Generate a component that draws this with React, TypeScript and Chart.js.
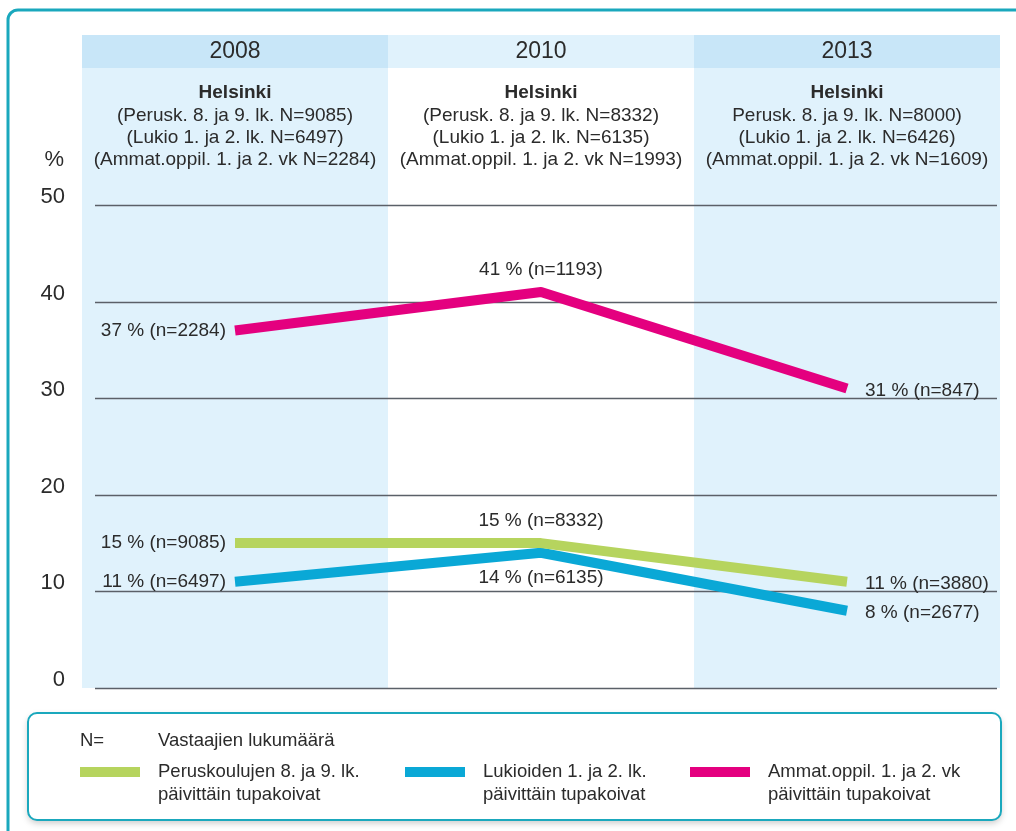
import React, { useEffect, useRef } from "react";
import { Chart, registerables } from "chart.js";

Chart.register(...registerables);

const YEARS = ["2008", "2010", "2013"];
const HEADER_2008 = ["Helsinki", "(Perusk. 8. ja 9. lk. N=9085)", "(Lukio 1. ja 2. lk. N=6497)", "(Ammat.oppil. 1. ja 2. vk N=2284)"];
const HEADER_2010 = ["Helsinki", "(Perusk. 8. ja 9. lk. N=8332)", "(Lukio 1. ja 2. lk. N=6135)", "(Ammat.oppil. 1. ja 2. vk N=1993)"];
const HEADER_2013 = ["Helsinki", "Perusk. 8. ja 9. lk. N=8000)", "(Lukio 1. ja 2. lk. N=6426)", "(Ammat.oppil. 1. ja 2. vk N=1609)"];

const PERUS = [15, 15, 11];
const LUKIO = [11, 14, 8];
const AMMAT = [37, 41, 31];
const PERUS_N = [9085, 8332, 3880];
const LUKIO_N = [6497, 6135, 2677];
const AMMAT_N = [2284, 1193, 847];

const SERIES_NAMES = [
  ["Peruskoulujen 8. ja 9. lk.", "päivittäin tupakoivat"],
  ["Lukioiden 1. ja 2. lk.", "päivittäin tupakoivat"],
  ["Ammat.oppil. 1. ja 2. vk", "päivittäin tupakoivat"],
];
const Y_TICKS = [0, 10, 20, 30, 40, 50];

const GREEN = "#b6d45e";
const BLUE = "#0aa8d6";
const MAGENTA = "#e4007f";
const TEAL = "#1aa8bd";
const TEXT = "#2b2b2b";
const FONT = "'Liberation Sans', Arial, sans-serif";

// label placement per series & point
const PLACEMENT = [
  ["left", "above", "right"],
  ["left", "below", "right"],
  ["left", "above", "right"],
];

const decorPlugin = {
  id: "decor",
  beforeDraw(chart: any) {
    const { ctx, chartArea, scales } = chart;
    const x = scales.x;
    const step = x.getPixelForValue(1) - x.getPixelForValue(0);
    ctx.save();
    ctx.fillStyle = "#ffffff";
    ctx.fillRect(0, 0, chart.width, chart.height);
    const headerTop = 35;
    const headerBottom = 68;
    const headers = [HEADER_2008, HEADER_2010, HEADER_2013];
    YEARS.forEach((yr, i) => {
      const cx = x.getPixelForValue(i);
      const l = cx - step / 2;
      const shaded = i !== 1;
      ctx.fillStyle = shaded ? "#c8e6f8" : "#e0f2fc";
      ctx.fillRect(l, headerTop, step, headerBottom - headerTop);
      if (shaded) {
        ctx.fillStyle = "#e0f2fc";
        ctx.fillRect(l, headerBottom, step, chartArea.bottom - headerBottom);
      }
      ctx.fillStyle = TEXT;
      ctx.textAlign = "center";
      ctx.textBaseline = "middle";
      ctx.font = `23px ${FONT}`;
      ctx.fillText(yr, cx, 52);
      headers[i].forEach((line, j) => {
        ctx.font = j === 0 ? `bold 19px ${FONT}` : `19px ${FONT}`;
        ctx.fillText(line, cx, 93 + j * 22.4);
      });
    });
    // frame
    ctx.strokeStyle = TEAL;
    ctx.lineWidth = 3;
    ctx.beginPath();
    ctx.moveTo(8, chart.height + 10);
    ctx.lineTo(8, 20);
    ctx.arcTo(8, 10, 18, 10, 10);
    ctx.lineTo(chart.width + 10, 10);
    ctx.stroke();
    // % label
    ctx.fillStyle = TEXT;
    ctx.font = `22px ${FONT}`;
    ctx.textAlign = "right";
    ctx.textBaseline = "middle";
    ctx.fillText("%", 64, 160);
    ctx.restore();
  },
  beforeDatasetsDraw(chart: any) {
    const { ctx, scales } = chart;
    const y = scales.y;
    ctx.save();
    ctx.strokeStyle = "#5b6068";
    ctx.lineWidth = 1.5;
    Y_TICKS.forEach((t) => {
      const py = Math.round(y.getPixelForValue(t)) + 0.5;
      ctx.beginPath();
      ctx.moveTo(95, py);
      ctx.lineTo(997, py);
      ctx.stroke();
    });
    ctx.restore();
  },
  afterDatasetsDraw(chart: any) {
    const { ctx } = chart;
    const values = [PERUS, LUKIO, AMMAT];
    const ns = [PERUS_N, LUKIO_N, AMMAT_N];
    ctx.save();
    ctx.fillStyle = TEXT;
    ctx.font = `19px ${FONT}`;
    ctx.textBaseline = "middle";
    values.forEach((vals, s) => {
      const meta = chart.getDatasetMeta(s);
      vals.forEach((v, i) => {
        const pt = meta.data[i];
        const txt = `${v} % (n=${ns[s][i]})`;
        const pl = PLACEMENT[s][i];
        if (pl === "left") {
          ctx.textAlign = "right";
          ctx.fillText(txt, pt.x - 9, pt.y);
        } else if (pl === "right") {
          ctx.textAlign = "left";
          ctx.fillText(txt, pt.x + 18, pt.y + 2);
        } else if (pl === "above") {
          ctx.textAlign = "center";
          ctx.fillText(txt, pt.x, pt.y - 22);
        } else {
          ctx.textAlign = "center";
          ctx.fillText(txt, pt.x, pt.y + 25);
        }
      });
    });
    ctx.restore();
  },
  afterDraw(chart: any) {
    const { ctx } = chart;
    ctx.save();
    // legend box
    ctx.shadowColor = "rgba(0,0,0,0.22)";
    ctx.shadowBlur = 7;
    ctx.shadowOffsetY = 3;
    ctx.fillStyle = "#ffffff";
    ctx.beginPath();
    ctx.roundRect(28, 713, 973, 107, 9);
    ctx.fill();
    ctx.shadowColor = "transparent";
    ctx.strokeStyle = TEAL;
    ctx.lineWidth = 2;
    ctx.stroke();
    ctx.fillStyle = TEXT;
    ctx.font = `18.5px ${FONT}`;
    ctx.textAlign = "left";
    ctx.textBaseline = "middle";
    ctx.fillText("N=", 80, 741);
    ctx.fillText("Vastaajien lukumäärä", 158, 741);
    const xs = [80, 405, 690];
    chart.data.datasets.forEach((ds: any, i: number) => {
      ctx.fillStyle = ds.borderColor;
      ctx.fillRect(xs[i], 767, 60, 10);
      ctx.fillStyle = TEXT;
      ctx.fillText(SERIES_NAMES[i][0], xs[i] + 78, 772);
      ctx.fillText(SERIES_NAMES[i][1], xs[i] + 78, 795);
    });
    ctx.restore();
  },
};

export default function App() {
  const ref = useRef<HTMLCanvasElement | null>(null);
  useEffect(() => {
    if (!ref.current) return;
    const mk = (data: number[], color: string) => ({
      data,
      borderColor: color,
      backgroundColor: color,
      borderWidth: 10,
      pointRadius: 0,
      borderCapStyle: "butt" as const,
      borderJoinStyle: "round" as const,
      tension: 0,
    });
    const chart = new Chart(ref.current, {
      type: "line",
      data: {
        labels: YEARS,
        datasets: [mk(PERUS, GREEN), mk(LUKIO, BLUE), mk(AMMAT, MAGENTA)],
      },
      options: {
        responsive: false,
        animation: false,
        layout: { padding: { left: 0, right: 16, top: 205, bottom: 143 } },
        plugins: { legend: { display: false }, tooltip: { enabled: false } },
        scales: {
          x: { type: "category", offset: true, display: false },
          y: {
            min: 0,
            max: 50,
            afterFit: (s: any) => {
              s.width = 82;
            },
            afterBuildTicks: (s: any) => {
              s.ticks = Y_TICKS.map((v) => ({ value: v }));
            },
            grid: { display: false },
            border: { display: false },
            ticks: {
              padding: 9,
              labelOffset: -8,
              color: TEXT,
              font: { size: 22, family: FONT },
            },
          },
        },
      },
      plugins: [decorPlugin],
    });
    return () => chart.destroy();
  }, []);
  return (
    <div style={{ position: "absolute", left: 0, top: 0, width: 1016, height: 831 }}>
      <canvas ref={ref} width={1016} height={831} style={{ display: "block" }} />
    </div>
  );
}
